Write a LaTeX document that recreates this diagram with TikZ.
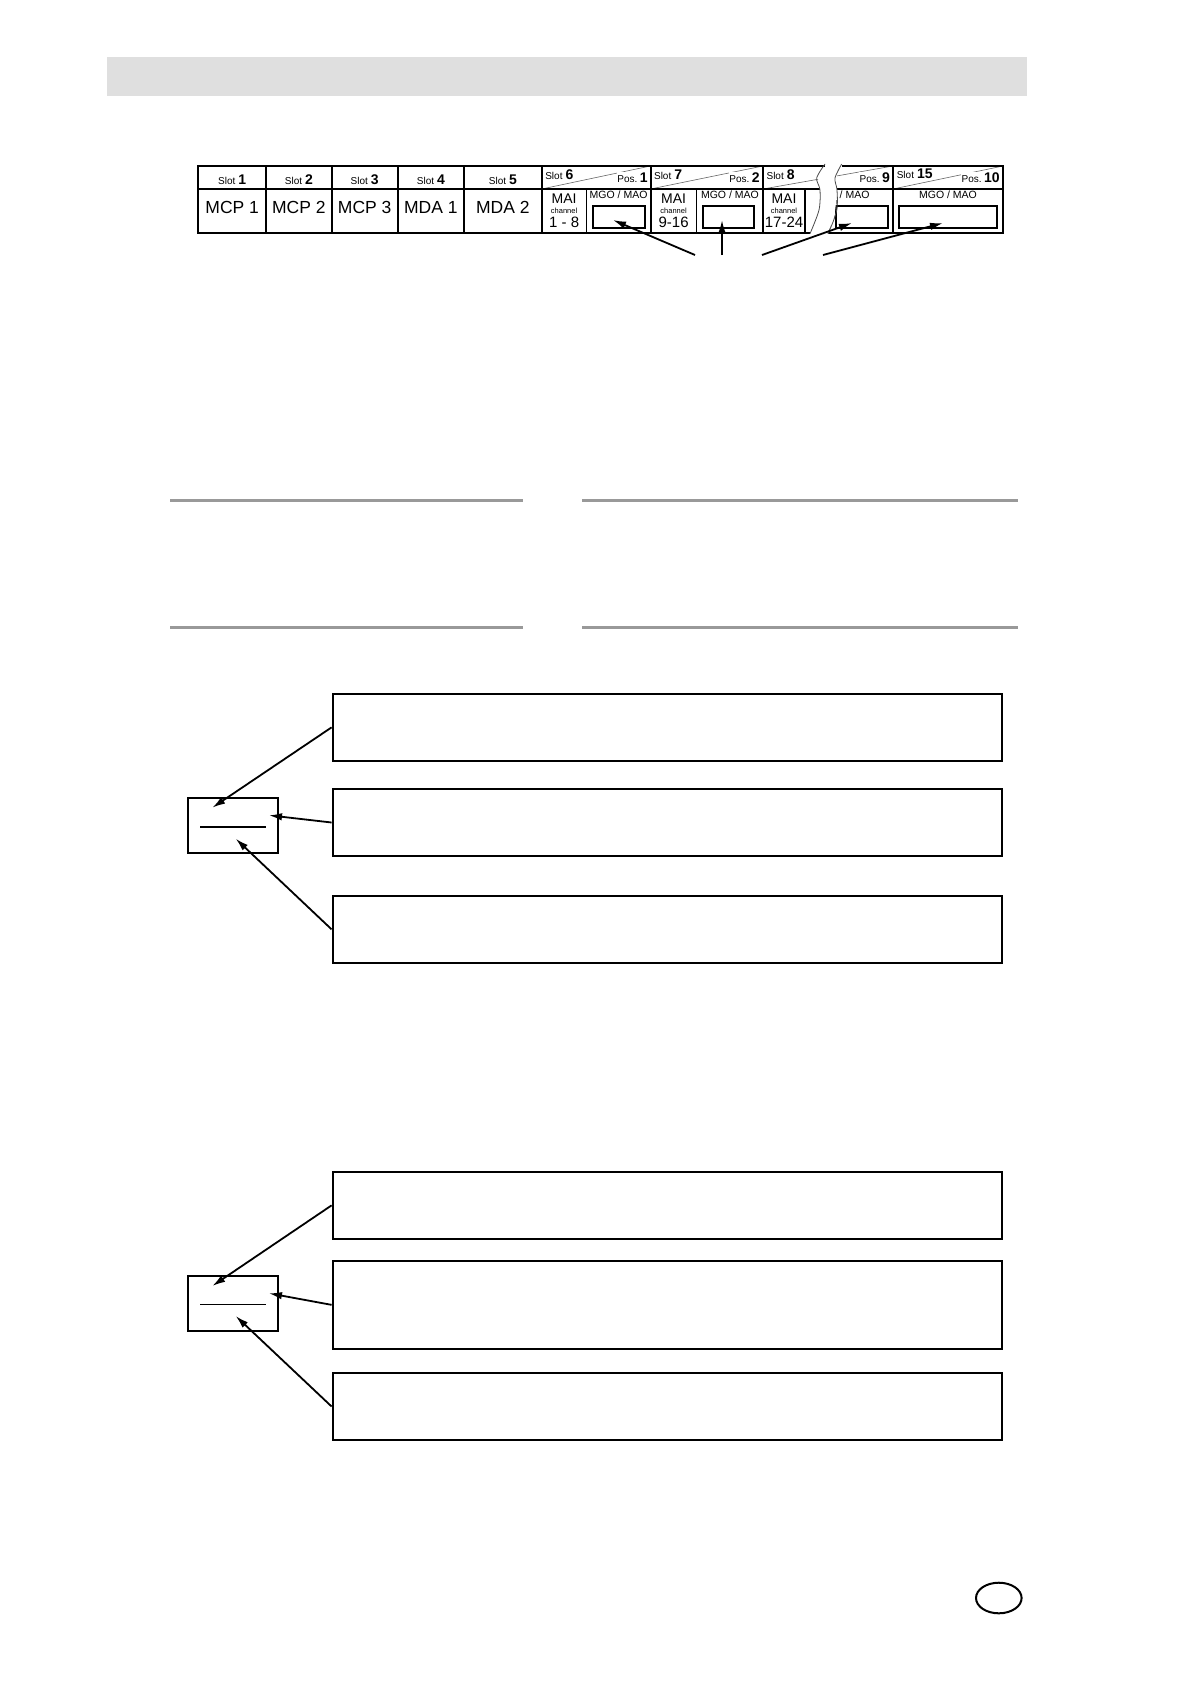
\documentclass[tikz,border=0pt]{standalone}
\usepackage{fontspec}
\setmainfont{Liberation Sans}
\usetikzlibrary{arrows.meta,fit,shapes.geometric}
\newcommand\slotlab[1]{{\fontsize{10}{11}\selectfont Slot}\hspace{3pt}{\fontsize{14}{15}\selectfont\bfseries #1}}
\newcommand\poslab[1]{{\fontsize{10}{11}\selectfont Pos.}\hspace{2.5pt}{\fontsize{14}{15}\selectfont\bfseries #1}}
\begin{document}
\begin{tikzpicture}[x=1pt,y=-1pt,
  bigbox/.style={draw=black, line width=2.2pt, inner sep=0pt},
  smallbox/.style={draw=black, line width=2pt, inner sep=0pt},
  inbox/.style={draw=black, line width=1.2pt, inner sep=0pt},
  ptr/.style={draw=black, line width=1.8pt, -{Latex[length=13pt,width=7.5pt]}},
  tbl/.style={line width=2pt},
  split/.style={line width=1.5pt},
  diag/.style={line width=0.6pt, draw=black!60},
  breakline/.style={line width=0.8pt, draw=black!70},
  rulegray/.style={line width=3pt, draw=black!40},
  big/.style={inner sep=0pt, anchor=base, font=\fontsize{17.5}{20}\selectfont},
  mai/.style={inner sep=0pt, anchor=base, font=\fontsize{14}{16}\selectfont},
  chan/.style={inner sep=0pt, anchor=base, font=\fontsize{7.5}{8}\selectfont},
  rng/.style={inner sep=0pt, anchor=base, font=\fontsize{15}{16}\selectfont},
  mgo/.style={inner sep=0pt, anchor=base, font=\fontsize{10.5}{11}\selectfont},
  hd/.style={inner sep=0.6pt, fill=white}
]
\useasboundingbox (0,0) rectangle (1190,1684);
\fill[white] (0,0) rectangle (1190,1684);

% grey header bar
\node (hdr) [fit={(107,57) (1027,96)}, inner sep=0pt, fill={rgb,255:red,223;green,223;blue,223}] {};

% ---------- table ----------
% diagonals in the header cells
\draw[diag] (541.7,189) -- (650.5,166);
\draw[diag] (650.5,189) -- (763,166);
\draw[diag] (763,189) -- (818,179.3);
\draw[diag] (837,175.9) -- (893,166);
\draw[diag] (893,189) -- (1003,166);
% outer frame (broken)
\draw[tbl] (825,166) -- (198.3,166) -- (198.3,232.7) -- (810,232.7);
\draw[tbl] (841.7,166) -- (1003,166) -- (1003,232.7) -- (828,232.7);
% header line
\draw[split] (198.3,189) -- (819.5,189);
\draw[split] (837,189) -- (1003,189);
% column lines
\foreach \cx in {266,331.7,397.7,464,541.7,650.5,763,893}
  \draw[tbl] (\cx,166) -- (\cx,232.7);
\foreach \cx in {586.5,696.7,805}
  \draw[split] (\cx,189) -- (\cx,232.7);
% break curves
\draw[breakline] plot[smooth] coordinates {(825,164) (816.7,178) (820,190) (819,210) (810,233.7)};
\draw[breakline] plot[smooth] coordinates {(841.7,164) (835,178) (837,190) (836.7,210) (828,233.7)};

% header labels
\node (h1) [inner sep=0pt, anchor=base] at (232.2,184) {\slotlab{1}};
\node (h2) [inner sep=0pt, anchor=base] at (298.9,184) {\slotlab{2}};
\node (h3) [inner sep=0pt, anchor=base] at (364.7,184) {\slotlab{3}};
\node (h4) [inner sep=0pt, anchor=base] at (430.9,184) {\slotlab{4}};
\node (h5) [inner sep=0pt, anchor=base] at (502.9,184) {\slotlab{5}};
\node (h6) [hd, anchor=base west] at (544.5,179) {\slotlab{6}};
\node (p1) [hd, anchor=base east] at (648.5,182.7) {\poslab{1}};
\node (h7) [hd, anchor=base west] at (653.3,179) {\slotlab{7}};
\node (p2) [hd, anchor=base east] at (760.5,182.7) {\poslab{2}};
\node (h8) [hd, anchor=base west] at (765.8,179) {\slotlab{8}};
\node (p9) [hd, anchor=base east] at (890.8,182.7) {\poslab{9}};
\node (h15) [hd, anchor=base west] at (896,178.5) {\slotlab{15}};
\node (p10) [hd, anchor=base east] at (1000.5,182.7) {\poslab{10}};

% body labels
\node (mcp1) [big] at (232.2,213.3) {MCP 1};
\node (mcp2) [big] at (298.9,213.3) {MCP 2};
\node (mcp3) [big] at (364.7,213.3) {MCP 3};
\node (mda1) [big] at (430.9,213.3) {MDA 1};
\node (mda2) [big] at (502.9,213.3) {MDA 2};

\node (mai6) [mai] at (564.1,203.3) {MAI};
\node (ch6) [chan] at (564.1,213) {channel};
\node (r6) [rng] at (564.1,227) {1 - 8};
\node (mai7) [mai] at (673.6,203.3) {MAI};
\node (ch7) [chan] at (673.6,213) {channel};
\node (r7) [rng] at (673.6,227) {9-16};
\node (mai8) [mai] at (784,203.3) {MAI};
\node (ch8) [chan] at (784,213) {channel};
\node (r8) [rng] at (784,227) {17-24};

\node (g6) [mgo] at (618.6,198.5) {MGO / MAO};
\node (g7) [mgo] at (729.9,198.5) {MGO / MAO};
\node (g9) [mgo, anchor=base west] at (839.5,198.5) {/ MAO};
\node (g15) [mgo] at (948,198.5) {MGO / MAO};

% inner boxes
\node (m6) [inbox, fit={(593,206) (645,228)}] {};
\node (m7) [inbox, fit={(703,206) (754,228)}] {};
\node (m9) [inbox, fit={(836,206) (888,228)}] {};
\node (m15) [inbox, fit={(899,206) (997,228)}] {};
\draw[breakline, draw=white, line width=2.5pt] (834.5,205) -- (831.5,229);
\draw[breakline] plot[smooth] coordinates {(836.7,200) (836.7,210) (833,222) (828,233.7)};

% arrows to the inner boxes
\coordinate (s1) at (695,255);
\coordinate (s2) at (722,255);
\coordinate (s3) at (762,255);
\coordinate (s4) at (823,255);
\coordinate (t1) at (613,220);
\coordinate (t2) at (722,220);
\coordinate (t3) at (852,223);
\coordinate (t4) at (943,223);
\draw[ptr] (s1) -- (t1);
\draw[ptr] (s2) -- (t2);
\draw[ptr] (s3) -- (t3);
\draw[ptr] (s4) -- (t4);

% grey rules
\draw[rulegray] (170,500) -- (523,500);
\draw[rulegray] (582,500) -- (1018,500);
\draw[rulegray] (170,627) -- (523,627);
\draw[rulegray] (582,627) -- (1018,627);

% ---------- first group ----------
\node (b1) [bigbox, fit={(332.7,694) (1002,760.7)}] {};
\node (b2) [bigbox, fit={(332.7,789) (1002,856)}] {};
\node (b3) [bigbox, fit={(332.7,895.7) (1002,963)}] {};
\node (sb1) [smallbox, fit={(187.7,798.3) (278.3,853)}] {};
\draw[line width=2pt] (200,826.7) -- (266,826.7);
\coordinate (u1) at (212.3,807.7);
\coordinate (u2) at (269,815.3);
\coordinate (u3) at (235.7,838.7);
\draw[ptr] (b1.west) -- (u1);
\draw[ptr] (b2.west) -- (u2);
\draw[ptr] (b3.west) -- (u3);

% ---------- second group ----------
\node (c1) [bigbox, fit={(332.7,1171.7) (1002,1239)}] {};
\node (c2) [bigbox, fit={(332.7,1260.7) (1002,1349)}] {};
\node (c3) [bigbox, fit={(332.7,1372.7) (1002,1440.3)}] {};
\node (sb2) [smallbox, fit={(187.7,1276.3) (278.3,1331)}] {};
\draw[line width=1.1pt] (200,1304.3) -- (266,1304.3);
\coordinate (v1) at (212.3,1286);
\coordinate (v2) at (269,1293.3);
\coordinate (v3) at (235.7,1316);
\draw[ptr] (c1.west) -- (v1);
\draw[ptr] (c2.west) -- (v2);
\draw[ptr] (c3.west) -- (v3);

% page oval
\node (pg) [draw=black, line width=2pt, ellipse, inner sep=0pt, minimum width=45.6pt, minimum height=30.6pt] at (998.8,1598) {};
\end{tikzpicture}
\end{document}
